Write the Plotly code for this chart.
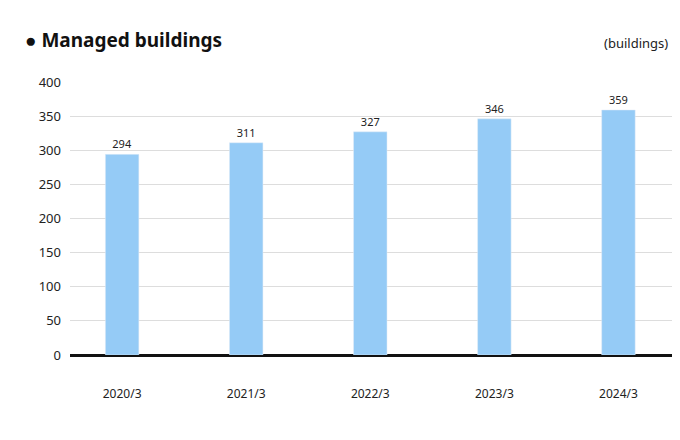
import plotly.graph_objects as go

categories = ["2020/3", "2021/3", "2022/3", "2023/3", "2024/3"]
values = [294, 311, 327, 346, 359]
y_ticks = [0, 50, 100, 150, 200, 250, 300, 350, 400]

fig = go.Figure(go.Bar(
    x=categories, y=values, marker_color="#95CBF6", width=0.27,
    text=[str(v) for v in values], textposition="outside",
    textfont=dict(size=11, color="#222"), cliponaxis=False,
))
fig.update_layout(
    width=680, height=440, plot_bgcolor="white", paper_bgcolor="white",
    margin=dict(l=62, r=10, t=74, b=93), showlegend=False,
    font=dict(family="Noto Sans, sans-serif", color="#222"),
    annotations=[
        dict(text="<b>● Managed buildings</b>", x=15, y=32, xref="paper", yref="paper",
             xanchor="left", yanchor="middle", showarrow=False, font=dict(size=19, color="#111")),
        dict(text="(buildings)", x=1, y=1, xref="paper", yref="paper",
             xanchor="right", yanchor="middle", showarrow=False, font=dict(size=13, color="#222")),
    ],
)
# place annotations in paper coordinates computed from pixel targets
plot_w, plot_h = 680 - 62 - 10, 440 - 74 - 93
fig.layout.annotations[0].update(x=(15 - 62) / plot_w, y=(440 - 93 - 32) / plot_h)
fig.layout.annotations[1].update(x=(662 - 62) / plot_w, y=(440 - 93 - 35) / plot_h)
fig.update_xaxes(showgrid=False, showline=False, ticks="", tickfont=dict(size=12),
                 ticklabelstandoff=30, range=[-0.42, 4.48])
fig.update_yaxes(range=[0, 400], tickvals=y_ticks, showgrid=True, gridcolor="#DDDDDD",
                 zeroline=True, zerolinecolor="#111", zerolinewidth=3,
                 tickfont=dict(size=13), ticklabelstandoff=8)
fig.write_html("out.html")
